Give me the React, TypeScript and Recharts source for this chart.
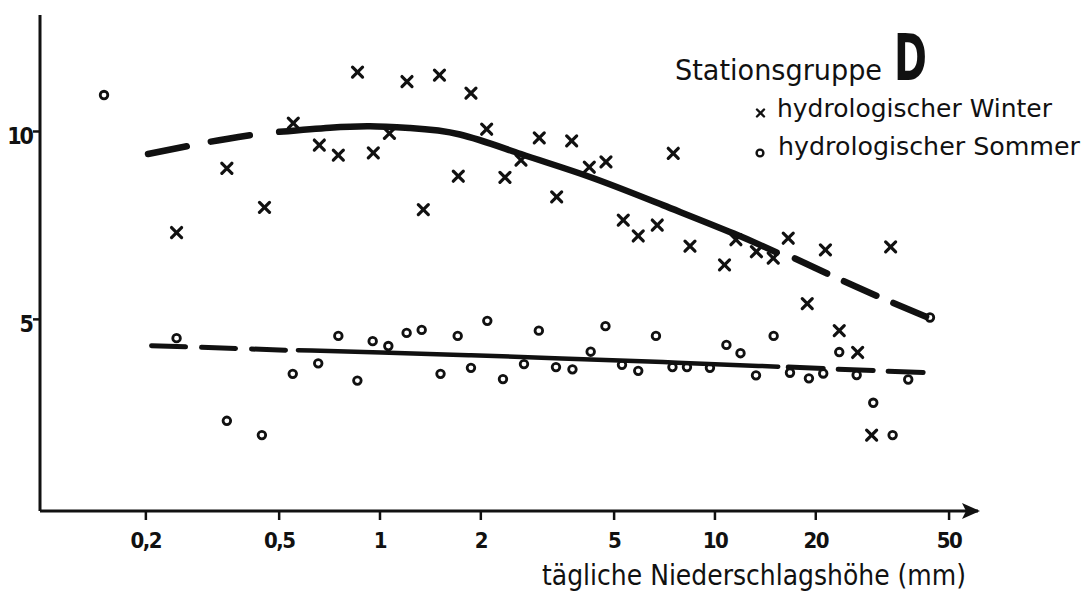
import React from 'react';
import { ComposedChart, Scatter, Line, XAxis, YAxis, ReferenceDot } from 'recharts';

const W = 1090;
const H = 594;
const X_MIN = 0.0966;
const X_MAX = 61;
const Y_MIN = -0.1;
const Y_MAX = 13.1;

const xTicks = [0.2, 0.5, 1, 2, 5, 10, 20, 50];
const xTickLabels = ['0,2', '0,5', '1', '2', '5', '10', '20', '50'];
const yTicks = [5, 10];
const yTickLabels = ['5', '10'];

const winterX = [0.247, 0.349, 0.452, 0.551, 0.659, 0.751, 0.857, 0.955, 1.067, 1.204, 1.347, 1.505, 1.713, 1.869, 2.082, 2.361, 2.636, 2.989, 3.369, 3.735, 4.216, 4.728, 5.325, 5.902, 6.726, 7.508, 8.423, 10.68, 11.55, 13.3, 14.93, 16.55, 18.86, 21.37, 23.5, 26.67, 29.36, 33.46];
const winterY = [7.31, 9.02, 7.98, 10.22, 9.64, 9.37, 11.58, 9.43, 9.95, 11.33, 7.92, 11.5, 8.81, 11.02, 10.06, 8.78, 9.24, 9.83, 8.26, 9.75, 9.05, 9.19, 7.64, 7.22, 7.51, 9.42, 6.95, 6.45, 7.12, 6.8, 6.63, 7.16, 5.42, 6.85, 4.7, 4.12, 1.92, 6.93];

const summerX = [0.15, 0.247, 0.349, 0.444, 0.549, 0.654, 0.751, 0.856, 0.951, 1.059, 1.201, 1.332, 1.516, 1.706, 1.869, 2.091, 2.329, 2.691, 2.98, 3.353, 3.755, 4.256, 4.711, 5.278, 5.902, 6.666, 7.467, 8.25, 9.662, 10.82, 11.92, 13.26, 14.97, 16.75, 19.08, 21.05, 23.5, 26.49, 29.69, 33.92, 37.76, 43.84];
const summerY = [10.97, 4.5, 2.3, 1.92, 3.55, 3.83, 4.56, 3.37, 4.42, 4.29, 4.64, 4.72, 3.55, 4.56, 3.71, 4.96, 3.41, 3.81, 4.7, 3.73, 3.67, 4.14, 4.82, 3.79, 3.63, 4.56, 3.73, 3.73, 3.71, 4.32, 4.1, 3.51, 4.56, 3.58, 3.43, 3.56, 4.13, 3.52, 2.78, 1.92, 3.4, 5.05];

const winterFitLeftX = [0.203, 0.277, 0.313, 0.436];
const winterFitLeftY = [9.4, 9.64, 9.73, 9.94];
const winterFitMidX = [0.5, 0.709, 0.934, 1.229, 1.733, 2.636, 4.236, 6.996, 11.34, 15.28];
const winterFitMidY = [9.99, 10.1, 10.14, 10.09, 9.92, 9.4, 8.79, 8.04, 7.29, 6.78];
const winterFitRightX = [17.33, 22.86, 31.08, 43.3];
const winterFitRightY = [6.62, 6.12, 5.59, 5.05];

const summerFitLeftX = [0.208, 0.382, 0.527];
const summerFitLeftY = [4.3, 4.22, 4.18];
const summerFitMidX = [0.569, 1, 1.857, 3.445, 6.853, 15.45];
const summerFitMidY = [4.18, 4.12, 4.05, 3.96, 3.87, 3.74];
const summerFitRightX = [16.55, 42.65];
const summerFitRightY = [3.73, 3.58];

const zip = (xs: number[], ys: number[]) => xs.map((x, i) => ({ x, y: ys[i] }));

const winterData = zip(winterX, winterY);
const summerData = zip(summerX, summerY);

const INK = '#111';
const TICK_FONT = "'DejaVu Sans Condensed', 'DejaVu Sans', sans-serif";
const TEXT_FONT = "'DejaVu Sans', sans-serif";

const CrossShape = (props: any) => {
  const { cx, cy } = props;
  if (cx == null || cy == null) return null;
  const s = 5;
  return (
    <g stroke={INK} strokeWidth={3.2} strokeLinecap="round">
      <line x1={cx - s} y1={cy - s} x2={cx + s} y2={cy + s} />
      <line x1={cx - s} y1={cy + s} x2={cx + s} y2={cy - s} />
    </g>
  );
};

const RingShape = (props: any) => {
  const { cx, cy } = props;
  if (cx == null || cy == null) return null;
  return <circle cx={cx} cy={cy} r={3.8} fill="none" stroke={INK} strokeWidth={2.8} />;
};

const XTick = (props: any) => {
  const { x, y, payload } = props;
  const i = xTicks.indexOf(payload.value);
  return (
    <text x={x} y={y + 28} textAnchor="middle" fontFamily={TICK_FONT} fontWeight="bold" fontSize={22} letterSpacing={-1.5} fill={INK}>
      {i >= 0 ? xTickLabels[i] : ''}
    </text>
  );
};

const YTick = (props: any) => {
  const { x, y, payload } = props;
  const i = yTicks.indexOf(payload.value);
  return (
    <text x={x - 1} y={y + 12.5} textAnchor="end" fontFamily={TICK_FONT} fontWeight="bold" fontSize={23} letterSpacing={-2} fill={INK}>
      {i >= 0 ? yTickLabels[i] : ''}
    </text>
  );
};

const ArrowHead = (props: any) => {
  const { cx, cy } = props;
  if (cx == null || cy == null) return null;
  return (
    <polygon
      points={`${cx - 16},${cy - 8} ${cx + 2},${cy} ${cx - 16},${cy + 8} ${cx - 12},${cy}`}
      fill={INK}
    />
  );
};

export default function App() {
  return (
    <div style={{ position: 'absolute', left: 0, top: 0, width: W, height: H, background: '#fff' }}>
      <ComposedChart width={W} height={H} margin={{ top: 15, right: 112, bottom: 23, left: 0 }}>
        <XAxis
          type="number"
          dataKey="x"
          scale="log"
          domain={[X_MIN, X_MAX]}
          allowDataOverflow
          ticks={xTicks}
          interval={0}
          height={60}
          tickSize={9}
          tickMargin={0}
          tickLine={{ stroke: INK, strokeWidth: 2.5 }}
          axisLine={{ stroke: INK, strokeWidth: 3 }}
          tick={<XTick />}
        />
        <YAxis
          type="number"
          dataKey="y"
          domain={[Y_MIN, Y_MAX]}
          allowDataOverflow
          ticks={yTicks}
          interval={0}
          width={40}
          tickSize={7}
          tickMargin={0}
          tickLine={{ stroke: INK, strokeWidth: 2.5 }}
          axisLine={{ stroke: INK, strokeWidth: 3 }}
          tick={<YTick />}
        />
        <Line data={zip(winterFitLeftX, winterFitLeftY)} dataKey="y" type="monotone" stroke={INK} strokeWidth={6.5} strokeLinecap="round" strokeDasharray="39.5 24.5" dot={false} activeDot={false} isAnimationActive={false} />
        <Line data={zip(winterFitMidX, winterFitMidY)} dataKey="y" type="natural" stroke={INK} strokeWidth={6.5} strokeLinecap="round" dot={false} activeDot={false} isAnimationActive={false} />
        <Line data={zip(winterFitRightX, winterFitRightY)} dataKey="y" type="monotone" stroke={INK} strokeWidth={6.5} strokeLinecap="round" strokeDasharray="35.5 18.5" dot={false} activeDot={false} isAnimationActive={false} />
        <Line data={zip(summerFitLeftX, summerFitLeftY)} dataKey="y" type="linear" stroke={INK} strokeWidth={5} strokeLinecap="round" strokeDasharray="34 16" dot={false} activeDot={false} isAnimationActive={false} />
        <Line data={zip(summerFitMidX, summerFitMidY)} dataKey="y" type="basis" stroke={INK} strokeWidth={4.5} strokeLinecap="round" dot={false} activeDot={false} isAnimationActive={false} />
        <Line data={zip(summerFitRightX, summerFitRightY)} dataKey="y" type="linear" stroke={INK} strokeWidth={5} strokeLinecap="round" strokeDasharray="35 15" dot={false} activeDot={false} isAnimationActive={false} />
        <Scatter data={winterData} dataKey="y" shape={<CrossShape />} isAnimationActive={false} />
        <Scatter data={summerData} dataKey="y" shape={<RingShape />} isAnimationActive={false} />
        <ReferenceDot x={X_MAX} y={Y_MIN} ifOverflow="visible" shape={<ArrowHead />} />
      </ComposedChart>
      <svg width={W} height={H} style={{ position: 'absolute', left: 0, top: 0, pointerEvents: 'none' }}>
        <text x={675} y={80} fontFamily={TEXT_FONT} fontSize={28} textLength={207} lengthAdjust="spacingAndGlyphs" fill={INK}>Stationsgruppe</text>
        <text x={894} y={80} fontFamily={TEXT_FONT} fontWeight="bold" fontSize={64} textLength={33} lengthAdjust="spacingAndGlyphs" fill={INK}>D</text>
        <g stroke={INK} strokeWidth={2.4} strokeLinecap="round">
          <line x1={757} y1={109.5} x2={764} y2={116.5} />
          <line x1={757} y1={116.5} x2={764} y2={109.5} />
        </g>
        <text x={777} y={117} fontFamily={TEXT_FONT} fontSize={25} textLength={275} lengthAdjust="spacingAndGlyphs" fill={INK}>hydrologischer Winter</text>
        <circle cx={760} cy={153} r={3.4} fill="none" stroke={INK} strokeWidth={2.4} />
        <text x={778} y={155} fontFamily={TEXT_FONT} fontSize={25} textLength={302} lengthAdjust="spacingAndGlyphs" fill={INK}>hydrologischer Sommer</text>
        <text x={542} y={585} fontFamily={TEXT_FONT} fontSize={28} textLength={424} lengthAdjust="spacingAndGlyphs" fill={INK}>tägliche Niederschlagshöhe (mm)</text>
      </svg>
    </div>
  );
}
